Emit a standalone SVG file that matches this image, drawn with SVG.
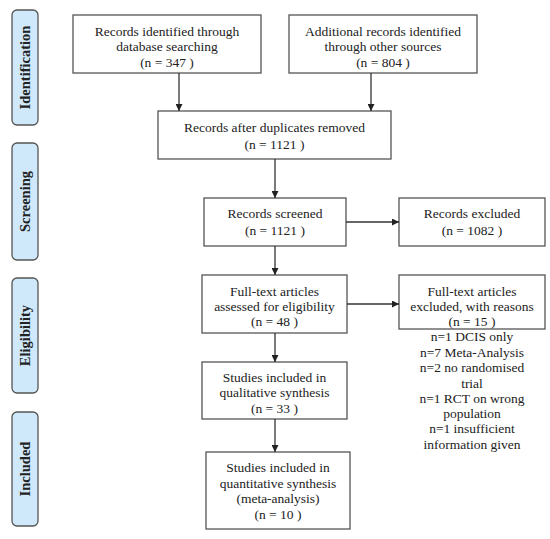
<svg xmlns="http://www.w3.org/2000/svg" width="550" height="539" viewBox="0 0 550 539">
<defs>
<marker id="ah" viewBox="0 0 10 10" refX="10" refY="5" markerWidth="7" markerHeight="7" markerUnits="userSpaceOnUse" orient="auto">
<path d="M0,0 L10,5 L0,10 z" fill="#222"/>
</marker>
</defs>
<style>
.box{fill:#fff;stroke:#555;stroke-width:1.3}
.side{fill:#cfe9fa;stroke:#555;stroke-width:1.3}
text{font-family:"Liberation Serif","DejaVu Serif",serif;font-size:13.5px;fill:#222;text-anchor:middle}
.st{font-weight:bold;font-size:14.5px}
.conn{stroke:#333;stroke-width:1.3;fill:none;marker-end:url(#ah)}
</style>
<rect width="550" height="539" fill="#fff"/>
<g id="side-identification"><rect class="side" x="12" y="10" width="26" height="115" rx="5"/><text class="st" transform="translate(30,67.5) rotate(-90)">Identification</text></g>
<g id="side-screening"><rect class="side" x="12" y="143" width="26" height="117" rx="5"/><text class="st" transform="translate(30,201.5) rotate(-90)">Screening</text></g>
<g id="side-eligibility"><rect class="side" x="12" y="278" width="26" height="115" rx="5"/><text class="st" transform="translate(30,335.5) rotate(-90)">Eligibility</text></g>
<g id="side-included"><rect class="side" x="12" y="412" width="26" height="114" rx="5"/><text class="st" transform="translate(30,469) rotate(-90)">Included</text></g>

<g id="db"><rect class="box" x="73" y="15" width="188" height="58"/><text x="167" y="36">Records identified through</text><text x="167" y="51">database searching</text><text x="167" y="67">(n = 347 )</text></g>
<g id="other"><rect class="box" x="289" y="15" width="188" height="58"/><text x="383" y="36">Additional records identified</text><text x="383" y="51">through other sources</text><text x="383" y="67">(n = 804 )</text></g>
<g id="dup"><rect class="box" x="158" y="111" width="233" height="48"/><text x="274.5" y="132">Records after duplicates removed</text><text x="274.5" y="149">(n = 1121 )</text></g>
<g id="screened"><rect class="box" x="204" y="198" width="142" height="48"/><text x="275" y="218">Records screened</text><text x="275" y="235">(n = 1121  )</text></g>
<g id="excluded"><rect class="box" x="399" y="198" width="146" height="48"/><text x="472" y="218">Records excluded</text><text x="472" y="235">(n = 1082  )</text></g>
<g id="fulltext"><rect class="box" x="202" y="275" width="145" height="58"/><text x="274.5" y="296">Full-text articles</text><text x="274.5" y="311">assessed for eligibility</text><text x="274.5" y="326">(n = 48  )</text></g>
<g id="ftexcluded"><rect class="box" x="399" y="275" width="146" height="54"/><text x="472" y="296">Full-text articles</text><text x="472" y="311">excluded, with reasons</text><text x="472" y="326">(n = 15  )</text>
<text x="472" y="341">n=1 DCIS only</text><text x="472" y="357">n=7 Meta-Analysis</text><text x="472" y="372">n=2 no randomised</text><text x="472" y="388">trial</text><text x="472" y="403">n=1 RCT on wrong</text><text x="472" y="418">population</text><text x="472" y="433">n=1 insufficient</text><text x="472" y="449">information given</text></g>
<g id="qual"><rect class="box" x="202" y="362" width="145" height="57"/><text x="274.5" y="382">Studies included in</text><text x="274.5" y="397">qualitative synthesis</text><text x="274.5" y="413">(n = 33  )</text></g>
<g id="quant"><rect class="box" x="206" y="452" width="144" height="77"/><text x="278" y="472">Studies included in</text><text x="278" y="488">quantitative synthesis</text><text x="278" y="503">(meta-analysis)</text><text x="278" y="519">(n = 10  )</text></g>

<g id="connectors">
<line class="conn" x1="179" y1="73" x2="179" y2="111"/>
<line class="conn" x1="371" y1="73" x2="371" y2="111"/>
<line class="conn" x1="275" y1="159" x2="275" y2="198"/>
<line class="conn" x1="275" y1="246" x2="275" y2="275"/>
<line class="conn" x1="275" y1="333" x2="275" y2="362"/>
<line class="conn" x1="275" y1="419" x2="275" y2="452"/>
<line class="conn" x1="346" y1="222" x2="399" y2="222"/>
<line class="conn" x1="347" y1="304" x2="399" y2="304"/>
</g>
</svg>
